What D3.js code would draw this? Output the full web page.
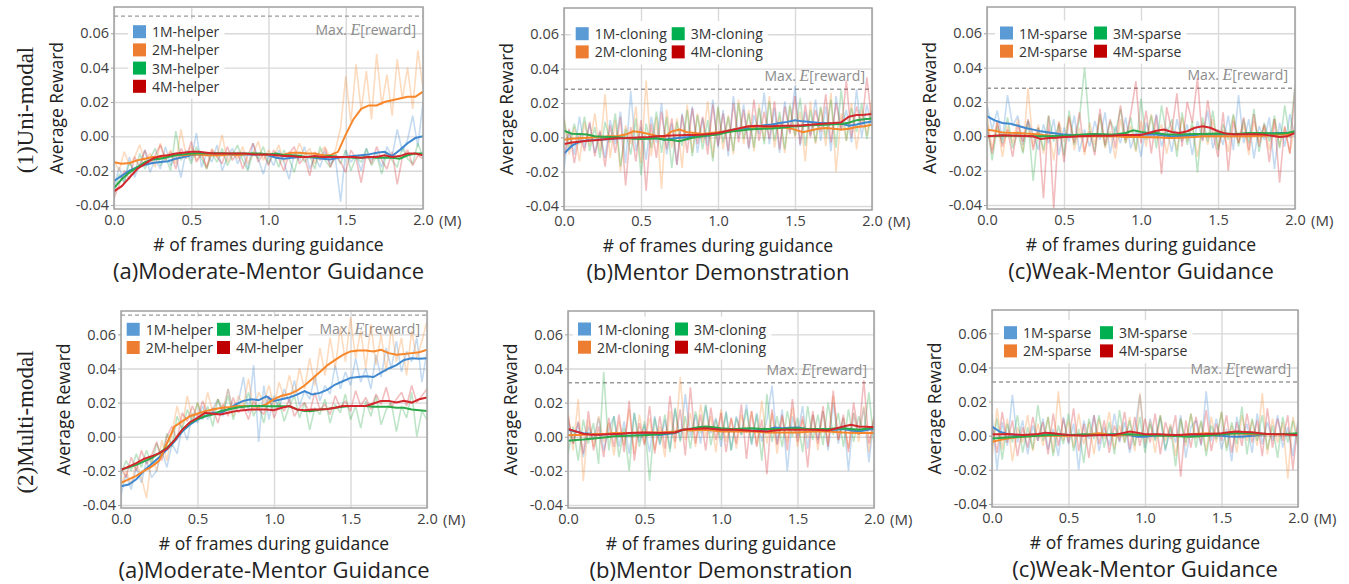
<!DOCTYPE html>
<html>
<head>
<meta charset="utf-8">
<script src="https://cdn.jsdelivr.net/npm/d3@7"></script>
<style>
    body { margin: 0; background: #fff; }
    svg { display: block; font-family: 'Open Sans', sans-serif; }
</style>
</head>
<body>
<div id="mainContainer"></div>
<script>
'use strict';

// x positions (million frames) of the smoothed curves
var frames = [0, 0.05, 0.1, 0.15, 0.2, 0.25, 0.3, 0.35, 0.4, 0.45,
    0.5, 0.55, 0.6, 0.65, 0.7, 0.75, 0.8, 0.85, 0.9, 0.95,
    1.0, 1.05, 1.1, 1.15, 1.2, 1.25, 1.3, 1.35, 1.4, 1.45,
    1.5, 1.55, 1.6, 1.65, 1.7, 1.75, 1.8, 1.85, 1.9, 1.95, 2.0];

var xTicks = [0, 0.5, 1.0, 1.5, 2.0];
var yTicks = [-0.04, -0.02, 0, 0.02, 0.04, 0.06];

var helperNames = ['1M-helper', '2M-helper', '3M-helper', '4M-helper'];
var cloningNames = ['1M-cloning', '2M-cloning', '3M-cloning', '4M-cloning'];
var sparseNames = ['1M-sparse', '2M-sparse', '3M-sparse', '4M-sparse'];

var rowLabels = ['(1)Uni-modal', '(2)Multi-modal'];
var titles = ['(a)Moderate-Mentor Guidance', '(b)Mentor Demonstration', '(c)Weak-Mentor Guidance'];

// Max. E[reward] per panel: uni helper, uni cloning, uni sparse, multi helper, multi cloning, multi sparse
var maxReward = [0.070, 0.028, 0.028, 0.0713, 0.0316, 0.0315];

//---------- (1) uni-modal, smoothed ----------
var uniHelper1M = [-0.026, -0.023, -0.020, -0.018, -0.0165, -0.0155, -0.015, -0.0145, -0.013, -0.012,
    -0.011, -0.0105, -0.0105, -0.010, -0.010, -0.0105, -0.0105, -0.0105, -0.0105, -0.0105,
    -0.011, -0.0125, -0.013, -0.0125, -0.012, -0.012, -0.0125, -0.013, -0.0135, -0.0125,
    -0.012, -0.0115, -0.011, -0.0105, -0.0095, -0.009, -0.0115, -0.008, -0.004, -0.001, 0.000];
var uniHelper2M = [-0.015, -0.016, -0.0155, -0.014, -0.013, -0.012, -0.012, -0.011, -0.011, -0.011,
    -0.0105, -0.0105, -0.011, -0.011, -0.011, -0.0105, -0.011, -0.0105, -0.010, -0.0105,
    -0.0105, -0.011, -0.0105, -0.0095, -0.0095, -0.010, -0.010, -0.011, -0.011, -0.009,
    0.001, 0.010, 0.016, 0.018, 0.018, 0.020, 0.021, 0.022, 0.023, 0.023, 0.026];
var uniHelper3M = [-0.030, -0.025, -0.021, -0.018, -0.015, -0.0135, -0.013, -0.012, -0.011, -0.0105,
    -0.010, -0.0098, -0.0098, -0.0098, -0.0098, -0.010, -0.010, -0.010, -0.010, -0.010,
    -0.0105, -0.010, -0.011, -0.011, -0.0115, -0.012, -0.012, -0.012, -0.0115, -0.012,
    -0.012, -0.0125, -0.0125, -0.012, -0.0125, -0.0125, -0.0125, -0.013, -0.011, -0.010, -0.010];
var uniHelper4M = [-0.032, -0.029, -0.024, -0.019, -0.016, -0.013, -0.0115, -0.011, -0.010, -0.0095,
    -0.009, -0.009, -0.0095, -0.010, -0.010, -0.010, -0.010, -0.010, -0.0105, -0.0105,
    -0.0105, -0.011, -0.0115, -0.0115, -0.012, -0.012, -0.0115, -0.012, -0.012, -0.012,
    -0.012, -0.012, -0.0125, -0.012, -0.012, -0.011, -0.012, -0.0115, -0.010, -0.010, -0.011];

var uniCloning1M = [-0.0095, -0.005, -0.0025, -0.0018, -0.0015, -0.0012, -0.001, -0.0006, -0.0005, -0.0004,
    -0.0004, -0.0005, -0.0004, -0.0014, -0.0008, -0.0002, 0.0, 0.0004, 0.0006, 0.0012,
    0.0025, 0.0035, 0.0045, 0.005, 0.0055, 0.006, 0.007, 0.0075, 0.0083, 0.009,
    0.010, 0.0093, 0.009, 0.0085, 0.0083, 0.0082, 0.008, 0.0068, 0.0075, 0.0085, 0.0093];
var uniCloning2M = [-0.0014, -0.0008, -0.0005, -0.0002, 0.0, 0.0004, 0.0006, 0.0008, 0.0016, 0.0035,
    0.003, 0.002, 0.0008, 0.0002, 0.0035, 0.0045, 0.003, 0.0025, 0.002, 0.0025,
    0.003, 0.0035, 0.0045, 0.0055, 0.0064, 0.005, 0.0055, 0.006, 0.006, 0.0055,
    0.0045, 0.003, 0.004, 0.005, 0.0055, 0.005, 0.0045, 0.005, 0.006, 0.0065, 0.0074];
var uniCloning3M = [0.0039, 0.0021, 0.002, 0.0016, 0.0006, 0.0004, 0.0002, 0.0, -0.0003, -0.0008,
    -0.001, -0.0008, -0.0006, -0.0012, -0.0015, -0.0023, -0.001, 0.0, 0.0008, 0.0012,
    0.0016, 0.0028, 0.0035, 0.004, 0.0045, 0.0048, 0.005, 0.0052, 0.0055, 0.006,
    0.0064, 0.0066, 0.007, 0.0072, 0.0074, 0.0076, 0.0078, 0.0085, 0.010, 0.0105, 0.011];
var uniCloning4M = [-0.0039, -0.003, -0.0025, -0.002, -0.0017, -0.0012, -0.0008, -0.0005, -0.0004, -0.0002,
    0.0, 0.0002, 0.0006, 0.0008, 0.001, 0.0012, 0.0013, 0.0014, 0.0016, 0.002,
    0.0025, 0.0035, 0.0045, 0.0055, 0.0064, 0.0068, 0.0064, 0.0065, 0.0068, 0.0068,
    0.0068, 0.007, 0.0074, 0.0078, 0.008, 0.0083, 0.0087, 0.012, 0.013, 0.0132, 0.0136];

var uniSparse1M = [0.0117, 0.0093, 0.0078, 0.0074, 0.0062, 0.0049, 0.0039, 0.0029, 0.0023, 0.0016,
    0.001, 0.0008, 0.0007, 0.0006, 0.0006, 0.0005, 0.0006, 0.0005, 0.0006, 0.0008,
    0.001, 0.001, 0.001, 0.0005, 0.0, 0.0002, 0.0004, 0.0008, 0.001, 0.001,
    0.001, 0.0012, 0.001, 0.0012, 0.0016, 0.0015, 0.0016, 0.0018, 0.002, 0.002, 0.002];
var uniSparse2M = [0.0039, 0.0032, 0.0023, 0.0021, 0.002, 0.0016, 0.0014, 0.001, 0.0004, 0.0002,
    0, 0, 0, 0, 0, 0, 0, 0, -0.0004, -0.0004,
    -0.0004, -0.0006, -0.0006, -0.0008, -0.001, -0.0008, -0.0006, -0.0004, 0, 0,
    0, 0, 0, 0, 0, 0.0002, 0.0004, 0.0006, 0.001, 0.0012, 0.0016];
var uniSparse3M = [0, 0.0002, 0.0004, 0.0004, 0.0004, 0.0002, 0, 0, 0, 0.0002,
    0.0004, 0.0006, 0.001, 0.0012, 0.0014, 0.0012, 0.001, 0.0014, 0.002, 0.0035,
    0.0026, 0.002, 0.002, 0.0012, 0.001, 0.0011, 0.0012, 0.0013, 0.0014, 0.0015,
    0.0016, 0.0015, 0.0013, 0.0016, 0.002, 0.002, 0.002, 0.0016, 0.0016, 0.002, 0.003];
var uniSparse4M = [0, 0.0003, 0.0006, 0.0005, 0.0004, 0.0002, 0, -0.0016, -0.001, -0.0008,
    -0.0004, -0.0002, 0, 0.0002, 0.0004, 0.0004, 0.0004, 0.0006, 0.0008, 0.0008,
    0.0008, 0.0019, 0.0033, 0.004, 0.0025, 0.002, 0.003, 0.005, 0.0058, 0.005,
    0.003, 0.0016, 0.0012, 0.0012, 0.0012, 0.0012, 0.001, 0.0004, -0.0004, 0, 0.002];

//---------- (2) multi-modal, smoothed ----------
var multiHelper1M = [-0.029, -0.028, -0.025, -0.020, -0.016, -0.012, -0.0076, -0.0027, 0.003, 0.007,
    0.010, 0.012, 0.014, 0.014, 0.016, 0.019, 0.021, 0.022, 0.0214, 0.0237,
    0.021, 0.022, 0.023, 0.0247, 0.0267, 0.0247, 0.0257, 0.0276, 0.0306, 0.0325,
    0.0345, 0.035, 0.0355, 0.035, 0.0375, 0.040, 0.042, 0.045, 0.046, 0.0457, 0.046];
var multiHelper2M = [-0.027, -0.025, -0.023, -0.020, -0.0175, -0.014, -0.004, 0.006, 0.009, 0.012,
    0.0135, 0.015, 0.016, 0.0168, 0.0172, 0.0178, 0.018, 0.018, 0.0175, 0.019,
    0.022, 0.024, 0.025, 0.027, 0.030, 0.034, 0.038, 0.042, 0.045, 0.048,
    0.050, 0.0505, 0.0505, 0.050, 0.051, 0.049, 0.048, 0.0485, 0.049, 0.0495, 0.051];
var multiHelper3M = [-0.0194, -0.018, -0.0165, -0.0145, -0.0125, -0.0096, -0.0065, -0.002, 0.004, 0.008,
    0.0105, 0.012, 0.013, 0.015, 0.016, 0.017, 0.0175, 0.018, 0.018, 0.0178,
    0.0178, 0.0178, 0.0178, 0.016, 0.015, 0.015, 0.016, 0.0163, 0.017, 0.0175,
    0.018, 0.018, 0.018, 0.0175, 0.0175, 0.0175, 0.017, 0.017, 0.016, 0.0155, 0.015];
var multiHelper4M = [-0.0194, -0.0175, -0.0155, -0.013, -0.0115, -0.0096, -0.007, -0.002, 0.004, 0.0085,
    0.011, 0.014, 0.0135, 0.013, 0.014, 0.015, 0.0155, 0.016, 0.016, 0.016,
    0.0155, 0.017, 0.018, 0.016, 0.0155, 0.016, 0.016, 0.0163, 0.017, 0.018,
    0.018, 0.018, 0.018, 0.0195, 0.021, 0.021, 0.020, 0.021, 0.020, 0.022, 0.023];

var multiCloning1M = [0.0041, 0.0031, 0.0021, 0.0017, 0.0012, 0.0014, 0.0016, 0.0019, 0.0021, 0.0019,
    0.0017, 0.0014, 0.001, 0.0016, 0.0021, 0.0041, 0.0041, 0.0049, 0.0056, 0.0049,
    0.0041, 0.0041, 0.0041, 0.0039, 0.0037, 0.0039, 0.0041, 0.0054, 0.005, 0.0052,
    0.0054, 0.0047, 0.0041, 0.0039, 0.0037, 0.0041, 0.0045, 0.0037, 0.0031, 0.0039, 0.0045];
var multiCloning2M = [0.0008, 0.001, 0.0012, 0.0014, 0.0016, 0.0018, 0.0021, 0.0021, 0.0021, 0.0023,
    0.0025, 0.0025, 0.0025, 0.0028, 0.0031, 0.0041, 0.0037, 0.0039, 0.0041, 0.0036,
    0.0031, 0.0031, 0.0031, 0.0031, 0.0031, 0.0028, 0.0025, 0.0025, 0.0025, 0.0025,
    0.0025, 0.0028, 0.0031, 0.0031, 0.0031, 0.0028, 0.0025, 0.0023, 0.0021, 0.0021, 0.0021];
var multiCloning3M = [-0.0023, -0.002, -0.0017, -0.0012, -0.0008, -0.0003, 0.0002, 0.0004, 0.0006, 0.0007,
    0.0008, 0.0012, 0.0016, 0.002, 0.0025, 0.0041, 0.0047, 0.0056, 0.006, 0.0055,
    0.005, 0.0047, 0.0045, 0.0048, 0.005, 0.0047, 0.0045, 0.0045, 0.0045, 0.0048,
    0.005, 0.0047, 0.0045, 0.0045, 0.0045, 0.0048, 0.005, 0.0045, 0.0041, 0.0047, 0.0054];
var multiCloning4M = [0.0045, 0.0031, 0.0017, 0.0012, 0.0012, 0.0014, 0.0016, 0.0018, 0.0021, 0.0023,
    0.0025, 0.0023, 0.0021, 0.0023, 0.0025, 0.0041, 0.0045, 0.0047, 0.005, 0.0045,
    0.0041, 0.0041, 0.0041, 0.0038, 0.0035, 0.0033, 0.0031, 0.0036, 0.0041, 0.0041,
    0.0041, 0.0041, 0.0041, 0.0039, 0.0037, 0.0048, 0.006, 0.007, 0.006, 0.0058, 0.0056];

var multiSparse1M = [0.0053, 0.0024, 0.001, 0.0004, 0, 0.0002, 0.0004, 0.0006, 0.0008, 0.0006,
    0.0004, 0.0004, 0.0004, 0.0004, 0.0004, 0.0006, 0.0008, 0.0006, 0.0004, -0.0006,
    -0.0006, 0, 0.0004, 0.0004, 0.0004, 0.0002, 0, 0.0002, 0.0004, 0.0002,
    0, -0.0004, -0.0006, -0.0004, 0, 0.0006, 0.001, 0.001, 0.001, 0.0009, 0.0008];
var multiSparse2M = [-0.0036, -0.0026, -0.0016, -0.001, -0.0006, -0.0003, 0, 0, 0, 0,
    0, 0.0002, 0.0004, 0.001, 0.0014, 0.0008, 0, 0.0004, 0.0008, 0.0006,
    0.0004, 0.0004, 0.0004, 0.0002, 0, 0.0004, 0.0008, 0.0011, 0.0014, 0.0011,
    0.0008, 0.0011, 0.0014, 0.0011, 0.0008, 0.0008, 0.0008, 0.0009, 0.001, 0.0007, 0.0004];
var multiSparse3M = [-0.0016, -0.0013, -0.001, -0.0008, -0.0006, -0.0003, 0, 0.0002, 0.0004, 0.0004,
    0.0004, 0.0006, 0.0008, 0.0006, 0.0004, 0.0006, 0.0008, 0.0008, 0.0008, 0.0006,
    0.0004, 0.0002, 0, -0.0001, -0.0002, -0.0004, -0.0006, -0.0003, 0, 0.0004,
    0.0008, 0.0011, 0.0014, 0.0014, 0.0014, 0.0012, 0.001, 0.001, 0.001, 0.0012, 0.0014];
var multiSparse4M = [0.0008, 0.0009, 0.001, 0.0007, 0.0004, 0.0007, 0.001, 0.0018, 0.0014, 0.0009,
    0.0004, 0.0002, 0, 0.0002, 0.0004, 0.0004, 0.0004, 0.0014, 0.0024, 0.0018,
    0.0008, 0.0008, 0.0008, 0.0006, 0.0004, 0.0006, 0.0008, 0.0009, 0.001, 0.0012,
    0.0014, 0.002, 0.0024, 0.0022, 0.002, 0.0015, 0.001, 0.0009, 0.0008, 0.0006, 0.0004];

//---------- raw (unsmoothed) rewards, 61 samples over 0-2M ----------
var uniHelper1MRaw = [-.030, -.018, -.027, -.012, -.024, -.016, -.008, -.021, -.013, -.019,
    -.006, -.017, -.011, -.024, -.008, -.014, .002, -.018, -.010, -.015,
    -.005, -.020, -.012, -.007, -.016, -.009, -.019, -.004, -.013, -.022,
    -.011, -.017, -.008, -.015, -.025, -.010, -.014, -.006, -.019, -.012,
    -.018, -.009, -.016, -.013, -.038, -.008, -.015, -.011, -.020, -.007,
    -.014, -.010, -.018, -.006, -.012, .004, -.009, -.002, .012, -.006, .020];
var uniHelper2MRaw = [-.014, -.020, -.009, -.017, -.012, -.005, -.015, -.010, -.018, -.004,
    -.013, -.008, -.016, .004, -.011, -.006, -.014, -.009, -.019, -.007,
    -.012, .001, -.015, -.009, -.013, -.006, -.016, -.010, -.003, -.014,
    -.008, -.012, -.005, -.015, -.009, -.013, -.004, -.011, -.007, -.016,
    -.009, -.006, -.013, -.008, .005, .035, .008, .042, .015, .038,
    .010, .048, .018, .036, .012, .045, .022, .040, .016, .050, .028];
var uniHelper3MRaw = [-.034, -.022, -.027, -.015, -.022, -.010, -.019, -.013, -.007, -.017,
    -.012, -.020, .003, -.014, -.009, -.016, -.006, -.013, -.019, -.010,
    -.015, -.007, -.017, -.011, -.005, -.014, -.020, -.009, -.013, -.006,
    -.016, -.010, -.018, -.008, -.013, -.021, -.009, -.015, -.011, -.019,
    -.006, -.014, -.018, -.010, -.016, -.008, -.020, -.012, -.015, -.007,
    -.017, -.011, -.022, -.009, -.014, -.018, -.006, -.013, -.016, -.004, -.012];
var uniHelper4MRaw = [-.036, -.028, -.020, -.025, -.012, -.018, -.008, -.016, -.011, -.005,
    -.014, -.009, -.019, -.007, -.013, -.003, -.015, -.010, -.018, -.008,
    -.012, -.016, -.006, -.014, -.009, -.019, -.011, -.004, -.015, -.010,
    -.017, -.008, -.013, -.020, -.010, -.006, -.016, -.012, -.023, -.009,
    -.014, -.007, -.018, -.011, -.015, -.021, -.008, -.013, -.027, -.010,
    -.016, -.006, -.014, -.019, -.009, -.028, -.012, -.008, -.017, -.011, -.013];

var uniCloning1MRaw = [-.018, .004, -.010, .012, -.006, .008, -.009, .003, -.012, .010,
    -.004, .015, -.015, .027, -.008, .006, -.013, .012, -.003, .020,
    -.010, .008, -.016, .014, -.002, .018, -.009, .011, -.005, .022,
    -.006, .016, -.011, .024, .000, .019, -.007, .013, .002, .026,
    -.004, .017, -.009, .021, .003, .030, -.005, .015, .001, .022,
    -.002, .018, -.008, .024, .004, .016, -.003, .028, .000, .019, .006];
var uniCloning2MRaw = [.012, -.010, .006, -.014, .009, -.005, .014, -.008, .025, -.012,
    .010, -.020, .007, -.004, .018, -.015, .033, -.011, .012, -.030,
    .016, -.006, .011, -.018, .019, -.009, .014, -.003, .021, -.012,
    .017, -.007, .013, -.010, .022, -.004, .016, -.008, .019, -.002,
    .024, -.006, .012, -.009, .018, .000, .015, -.014, .021, -.004,
    .017, -.005, .026, -.020, .014, -.002, .020, -.007, .016, .001, .022];
var uniCloning3MRaw = [.010, -.006, .008, -.004, .012, -.008, .006, -.012, .009, -.003,
    .014, -.017, .005, -.010, .011, -.022, .008, -.006, .015, -.009,
    .012, -.018, .009, -.005, .016, -.011, .013, -.007, .010, -.014,
    .018, -.003, .012, -.008, .020, -.001, .014, -.006, .017, -.004,
    .021, -.002, .015, -.007, .019, .001, .023, -.005, .016, -.003,
    .018, .000, .022, -.006, .028, -.002, .017, .003, .020, -.001, .016];
var uniCloning4MRaw = [-.012, .005, -.015, .002, -.008, .009, -.011, .004, -.017, .007,
    -.009, .012, -.028, .006, -.014, .010, -.031, .008, -.012, .015,
    -.007, .011, -.016, .013, -.009, .017, -.004, .012, -.010, .019,
    -.005, .014, -.008, .020, -.003, .016, -.006, .022, -.002, .015,
    -.001, .021, -.007, .018, .002, .024, -.004, .019, .000, .016,
    .003, .025, -.003, .020, .004, .033, .000, .018, .006, .035, .008];

var uniSparse1MRaw = [.018, .004, .015, -.002, .024, .006, .012, -.005, .009, .001,
    -.008, .007, -.004, .010, -.011, .005, -.003, .012, -.009, .004,
    -.006, .009, -.002, .014, -.010, .006, -.004, .011, -.007, .003,
    -.012, .008, -.001, .013, -.006, .005, -.009, .010, -.003, .007,
    -.011, .009, -.002, .015, -.007, .004, -.005, .012, -.008, .024,
    -.004, .010, -.013, .006, -.002, .011, -.019, .008, -.006, .013, -.001];
var uniSparse2MRaw = [.012, -.008, .009, -.012, .006, -.004, .010, -.009, .028, -.006,
    .007, -.010, .004, -.014, .009, -.003, .012, -.008, .005, -.011,
    .008, -.005, .011, -.007, .003, -.013, .010, -.004, .006, -.009,
    .009, -.006, .013, -.002, .007, -.010, .005, -.008, .011, -.003,
    .006, -.012, .008, -.005, .010, -.007, .004, -.009, .012, -.004,
    .007, -.011, .009, -.003, .006, -.008, .010, -.006, .005, -.010, .008];
var uniSparse3MRaw = [.008, -.014, .006, -.004, .011, -.007, .003, -.010, .009, -.026,
    .005, -.008, .012, -.003, .007, -.011, .015, -.005, .010, .040,
    .004, -.009, .013, -.006, .009, .002, .016, -.004, .011, -.008,
    .022, -.002, .012, -.007, .018, .001, .010, -.012, .014, -.005,
    .009, -.021, .011, -.003, .015, -.008, .007, -.002, .013, -.006,
    .010, -.004, .016, -.009, .008, -.003, .012, -.007, .018, -.001, .030];
var uniSparse4MRaw = [.006, -.010, .009, -.006, .004, -.012, .007, -.003, .010, -.008,
    .005, -.036, .012, -.042, .008, -.015, .011, -.004, .014, -.009,
    .003, -.011, .016, -.005, .010, -.007, .018, -.002, .013, .032,
    -.004, .015, -.010, .012, -.022, .017, .003, .025, -.006, .020,
    .008, .034, -.003, .021, .002, -.012, .014, -.020, .009, -.004,
    .011, -.008, .013, -.006, .007, -.015, .010, -.027, .006, -.010, .028];

var multiHelper1MRaw = [-.034, -.022, -.031, -.018, -.027, -.014, -.024, -.020, -.008, -.018,
    -.004, -.010, .006, -.002, .014, .008, .018, .010, .016, .022,
    .012, .028, .015, .020, .035, .014, .042, -.003, .030, .010,
    .024, .016, .028, .020, .033, .018, .027, .022, .036, .021,
    .030, .025, .042, .028, .038, .030, .046, .032, .040, .028,
    .048, .035, .052, .040, .056, .038, .050, .044, .058, .032, .050];
var multiHelper2MRaw = [-.030, -.020, -.028, -.015, -.024, -.036, -.012, -.020, -.002, -.014,
    .002, .018, .006, .024, .010, .020, .012, .026, .014, .022,
    .016, .028, .012, .024, .018, .034, .015, .026, .020, .030,
    .018, .032, .022, .036, .024, .040, .028, .046, .030, .052,
    .036, .058, .040, .064, .044, .070, .046, .062, .040, .066,
    .042, .060, .038, .064, .044, .058, .036, .062, .046, .056, .068];
var multiHelper3MRaw = [-.022, -.014, -.020, -.010, -.018, -.008, -.016, -.004, -.012, .002,
    -.006, .012, .004, .016, .008, .020, .010, .018, .006, .022,
    .014, .024, .010, .020, .016, .026, .012, .019, .008, .023,
    .015, .021, .009, .018, .024, .011, .020, .004, .017, .013,
    .022, .008, .019, .014, .025, .010, .018, .005, .021, .012,
    .024, .007, .016, .020, .003, .018, .011, .026, .000, .015, .010];
var multiHelper4MRaw = [-.018, -.024, -.012, -.020, -.008, -.016, -.011, -.003, -.014, .000,
    .006, -.002, .014, .009, .018, .011, .021, .013, .017, .008,
    .019, .012, .023, .014, .018, .010, .021, .016, .013, .024,
    .011, .019, .015, .022, .012, .017, .020, .014, .026, .016,
    .019, .013, .024, .017, .021, .015, .027, .018, .023, .016,
    .025, .019, .029, .017, .022, .026, .018, .030, .020, .024, .028];

var multiCloning1MRaw = [.010, -.004, .008, -.012, .006, -.002, .011, -.008, .004, .012,
    -.006, .009, -.010, .014, -.003, .007, -.009, .012, -.005, .010,
    -.007, .016, -.002, .025, .000, .013, -.004, .018, .002, .011,
    -.006, .015, -.008, .012, .001, .019, -.005, .014, -.003, .010,
    .030, -.004, .016, -.020, .012, .000, .018, -.007, .013, -.002,
    .015, -.008, .020, -.004, .011, -.020, .014, .001, .017, -.015, .012];
var multiCloning2MRaw = [.014, -.008, .022, -.026, .010, -.006, .012, -.003, .008, -.011,
    .009, -.005, .016, -.010, .013, -.004, .011, -.008, .006, -.012,
    .015, -.007, .035, -.002, .014, -.006, .019, .000, .012, -.009,
    .016, -.003, .011, -.007, .013, .002, .015, -.005, .021, -.004,
    .014, -.010, .012, -.003, .017, -.006, .010, -.001, .013, -.008,
    .015, -.005, .024, -.002, .011, -.007, .014, -.003, .018, -.009, .012];
var multiCloning3MRaw = [-.010, .006, -.014, .010, -.004, .008, -.016, .038, -.008, .012,
    -.012, .005, -.020, .014, -.006, .009, -.026, .011, -.004, .013,
    -.009, .017, -.003, .012, -.007, .015, .002, .019, -.005, .010,
    -.002, .014, -.008, .011, .001, .016, -.004, .013, -.014, .025,
    -.003, .012, -.006, .015, .000, .011, -.009, .018, -.002, .013,
    -.005, .020, .001, .014, -.006, .016, -.003, .012, .002, .026, -.004];
var multiCloning4MRaw = [.012, -.004, .009, -.010, .015, -.008, .006, -.012, .011, -.006,
    .013, -.009, .021, -.014, .008, -.005, .018, -.010, .012, -.007,
    .024, -.003, .016, -.011, .029, -.004, .013, -.008, .017, -.002,
    .014, -.009, .011, -.004, .019, -.013, .015, -.006, .010, -.022,
    .016, -.005, .013, -.008, .022, -.003, .012, -.018, .015, -.004,
    .018, -.006, .027, -.002, .013, -.009, .020, .001, .033, -.004, .011];

var multiSparse1MRaw = [.012, -.020, .008, -.006, .024, -.004, .009, -.011, .006, -.003,
    .010, -.008, .004, -.012, .011, -.005, .007, -.020, .009, -.002,
    .012, -.009, .005, -.006, .013, -.004, .008, -.010, .003, .024,
    -.007, .010, -.002, .011, -.009, .006, -.004, .012, -.013, .005,
    .009, -.006, .026, -.003, .010, -.008, .004, -.015, .011, -.002,
    .007, -.010, .013, -.005, .008, -.003, .012, -.007, .005, -.012, .009];
var multiSparse2MRaw = [-.012, .016, -.008, .010, -.015, .005, -.004, .012, -.009, .007,
    -.006, .011, -.010, .026, -.003, .009, -.007, .013, -.005, .008,
    -.011, .010, -.002, .014, -.008, .006, -.004, .011, -.009, .025,
    -.005, .009, -.010, .012, -.003, .007, -.012, .010, -.006, .013,
    -.002, .008, -.009, .011, -.004, .014, -.007, .006, -.010, .012,
    -.003, .009, -.006, .025, -.011, .010, -.004, .008, -.025, .011, -.002];
var multiSparse3MRaw = [-.006, .010, -.014, .007, -.004, .012, -.010, .005, -.008, .018,
    -.003, .011, -.012, .006, -.005, .013, -.009, .004, -.016, .010,
    -.002, .012, -.007, .008, -.011, .015, -.004, .009, -.006, .011,
    -.010, .007, -.003, .012, -.008, .005, -.018, .010, -.004, .013,
    -.007, .009, -.012, .006, -.002, .014, -.009, .008, -.005, .017,
    -.011, .010, -.003, .012, -.008, .006, -.013, .011, -.004, .009, -.006];
var multiSparse4MRaw = [.006, -.010, .014, -.004, .009, -.012, .005, -.007, .011, -.003,
    .008, -.011, .013, -.006, .010, -.004, .016, -.009, .007, -.013,
    .012, -.005, .009, -.010, .006, -.003, .014, -.008, .011, -.006,
    .010, -.004, .013, -.011, .008, -.002, .012, -.024, .009, -.007,
    .011, -.005, .015, -.009, .007, -.003, .012, -.010, .008, -.006,
    .013, -.004, .009, -.012, .016, -.007, .010, -.003, .012, -.020, .008];

var lineColors = ['#3f88cf', '#f7872a', '#2ba84a', '#d3262c'];
var swatchColors = ['#5b9bd5', '#ed7d31', '#00b050', '#c00000'];

// panel layout (pixels) and which series go where
var panels = [
    { left: 114, top: 7, width: 309, height: 202, domain: [-0.0423, 0.0753], row: 0, col: 0,
      names: helperNames, lines: [uniHelper1M, uniHelper2M, uniHelper3M, uniHelper4M],
      raws: [uniHelper1MRaw, uniHelper2MRaw, uniHelper3MRaw, uniHelper4MRaw],
      max: maxReward[0], maxBelow: true, legend: { x: 19, y: 24.7, cols: 1, gap: 0 } },
    { left: 564, top: 8, width: 308, height: 202, domain: [-0.0423, 0.0753], row: 0, col: 1,
      names: cloningNames, lines: [uniCloning1M, uniCloning2M, uniCloning3M, uniCloning4M],
      raws: [uniCloning1MRaw, uniCloning2MRaw, uniCloning3MRaw, uniCloning4MRaw],
      max: maxReward[1], maxBelow: false, legend: { x: 11.7, y: 25.7, cols: 2, gap: 96 } },
    { left: 987, top: 7, width: 308, height: 202, domain: [-0.0423, 0.0753], row: 0, col: 2,
      names: sparseNames, lines: [uniSparse1M, uniSparse2M, uniSparse3M, uniSparse4M],
      raws: [uniSparse1MRaw, uniSparse2MRaw, uniSparse3MRaw, uniSparse4MRaw],
      max: maxReward[2], maxBelow: false, legend: { x: 13, y: 26, cols: 2, gap: 94 } },
    { left: 121, top: 311, width: 306, height: 197, domain: [-0.0418, 0.0737], row: 1, col: 0,
      names: helperNames, lines: [multiHelper1M, multiHelper2M, multiHelper3M, multiHelper4M],
      raws: [multiHelper1MRaw, multiHelper2MRaw, multiHelper3MRaw, multiHelper4MRaw],
      max: maxReward[3], maxBelow: true, legend: { x: 5.7, y: 18.3, cols: 2, gap: 90.3 } },
    { left: 568, top: 311, width: 306, height: 197, domain: [-0.0418, 0.0737], row: 1, col: 1,
      names: cloningNames, lines: [multiCloning1M, multiCloning2M, multiCloning3M, multiCloning4M],
      raws: [multiCloning1MRaw, multiCloning2MRaw, multiCloning3MRaw, multiCloning4MRaw],
      max: maxReward[4], maxBelow: false, legend: { x: 10, y: 18, cols: 2, gap: 97 } },
    { left: 992, top: 310, width: 306, height: 197, domain: [-0.0418, 0.0737], row: 1, col: 2,
      names: sparseNames, lines: [multiSparse1M, multiSparse2M, multiSparse3M, multiSparse4M],
      raws: [multiSparse1MRaw, multiSparse2MRaw, multiSparse3MRaw, multiSparse4MRaw],
      max: maxReward[5], maxBelow: false, legend: { x: 12, y: 22.7, cols: 2, gap: 96 } }
];

var svg = d3.select('#mainContainer')
    .append('svg')
    .attr('width', 1349)
    .attr('height', 584);

// row labels
[[25, 110], [25, 422]].forEach(function (pos, r) {
    svg.append('text')
        .attr('transform', 'translate(' + pos[0] + ',' + pos[1] + ') rotate(-90)')
        .attr('text-anchor', 'middle')
        .attr('dominant-baseline', 'central')
        .style('font-family', '"Liberation Serif", serif')
        .style('font-size', '23px')
        .attr('fill', '#222')
        .text(rowLabels[r]);
});

panels.forEach(drawPanel);

function drawPanel(p, k) {
    var right = p.left + p.width,
        bottom = p.top + p.height;

    var x = d3.scaleLinear().domain([0, 2]).range([p.left, right]);
    var y = d3.scaleLinear().domain(p.domain).range([bottom, p.top]);
    var rawStep = d3.scaleLinear().domain([0, p.raws[0].length - 1]).range([0, 2]);

    var g = svg.append('g');

    //grid
    var gx = g.append('g')
        .attr('transform', 'translate(0,' + bottom + ')')
        .call(d3.axisBottom(x).tickValues(xTicks).tickSize(-p.height).tickFormat(''));
    var gy = g.append('g')
        .attr('transform', 'translate(' + p.left + ',0)')
        .call(d3.axisLeft(y).tickValues(yTicks).tickSize(-p.width).tickFormat(''));
    [gx, gy].forEach(function (a) {
        a.select('.domain').remove();
        a.selectAll('line').attr('stroke', '#d9d9d9').attr('stroke-width', 1.4);
    });

    //max expected reward
    g.append('line')
        .attr('x1', p.left).attr('x2', right)
        .attr('y1', y(p.max)).attr('y2', y(p.max))
        .attr('stroke', '#9a9a9a')
        .attr('stroke-width', 1.4)
        .attr('stroke-dasharray', '4,3');

    var maxText = g.append('text')
        .attr('x', right - 7)
        .attr('y', p.maxBelow ? y(p.max) + 19 : y(p.max) - 8)
        .attr('text-anchor', 'end')
        .attr('fill', '#8c8c8c')
        .style('font-size', '14px');
    maxText.append('tspan').text('Max. ');
    maxText.append('tspan')
        .style('font-family', '"Liberation Serif", serif')
        .style('font-style', 'italic')
        .style('font-size', '16px')
        .text('E');
    maxText.append('tspan').text('[reward]');

    //curves, clipped to the frame
    var clipId = 'clip-' + k;
    svg.append('clipPath').attr('id', clipId)
        .append('rect')
        .attr('x', p.left).attr('y', p.top)
        .attr('width', p.width).attr('height', p.height);

    var curves = g.append('g').attr('clip-path', 'url(#' + clipId + ')');

    var rawLine = d3.line()
        .x(function (d, i) { return x(rawStep(i)); })
        .y(function (d) { return y(d); });

    var smoothLine = d3.line()
        .x(function (d, i) { return x(frames[i]); })
        .y(function (d) { return y(d); });

    curves.selectAll('path.raw')
        .data(p.raws)
        .enter().append('path')
        .attr('class', 'raw')
        .attr('d', rawLine)
        .attr('fill', 'none')
        .attr('stroke', function (d, i) { return lineColors[i]; })
        .attr('stroke-opacity', 0.3)
        .attr('stroke-width', 1.6)
        .attr('stroke-linejoin', 'bevel');

    curves.selectAll('path.smooth')
        .data(p.lines)
        .enter().append('path')
        .attr('class', 'smooth')
        .attr('d', smoothLine)
        .attr('fill', 'none')
        .attr('stroke', function (d, i) { return lineColors[i]; })
        .attr('stroke-width', 2);

    //legend
    var leg = g.append('g');
    p.names.forEach(function (name, i) {
        var c = p.legend.cols === 1 ? 0 : Math.floor(i / 2),
            r = p.legend.cols === 1 ? i : i % 2,
            lx = p.left + p.legend.x + c * p.legend.gap,
            ly = p.top + p.legend.y + r * 18.2;
        leg.append('rect')
            .attr('x', lx).attr('y', ly - 6.5)
            .attr('width', 13).attr('height', 13)
            .attr('fill', swatchColors[i]);
        leg.append('text')
            .attr('x', lx + 19).attr('y', ly)
            .attr('dominant-baseline', 'central')
            .attr('fill', '#333')
            .style('font-size', '14px')
            .text(name);
    });
    var bb = leg.node().getBBox();
    leg.insert('rect', ':first-child')
        .attr('x', bb.x - 5).attr('y', bb.y - 3)
        .attr('width', bb.width + 10).attr('height', bb.height + 6)
        .attr('fill', '#fff')
        .attr('fill-opacity', 0.9);

    //frame
    g.append('rect')
        .attr('x', p.left).attr('y', p.top)
        .attr('width', p.width).attr('height', p.height)
        .attr('fill', 'none')
        .attr('stroke', '#a0a0a0')
        .attr('stroke-width', 1.5);

    //axes
    var ay = g.append('g')
        .attr('transform', 'translate(' + p.left + ',0)')
        .call(d3.axisLeft(y).tickValues(yTicks).tickSize(3).tickPadding(2)
            .tickFormat(function (d) { return d.toFixed(2); }));
    var ax = g.append('g')
        .attr('transform', 'translate(0,' + bottom + ')')
        .call(d3.axisBottom(x).tickValues(xTicks).tickSize(0).tickPadding(6)
            .tickFormat(function (d) { return d.toFixed(1); }));
    [ax, ay].forEach(function (a) {
        a.select('.domain').remove();
        a.selectAll('line').attr('stroke', '#a0a0a0');
        a.selectAll('text')
            .attr('fill', '#404040')
            .style('font-family', '"Open Sans", sans-serif')
            .style('font-size', '14.5px');
    });

    g.append('text')
        .attr('x', right + 16).attr('y', bottom + 17)
        .attr('fill', '#404040')
        .style('font-size', '15px')
        .text('(M)');

    g.append('text')
        .attr('transform', 'translate(' + (p.left - 58) + ',' + (p.top + p.height / 2) + ') rotate(-90)')
        .attr('text-anchor', 'middle')
        .attr('dominant-baseline', 'central')
        .attr('fill', '#222')
        .style('font-size', '17.5px')
        .text('Average Reward');

    g.append('text')
        .attr('x', (p.left + right) / 2).attr('y', bottom + 42)
        .attr('text-anchor', 'middle')
        .attr('fill', '#222')
        .style('font-size', '17.5px')
        .text('# of frames during guidance');

    g.append('text')
        .attr('x', (p.left + right) / 2).attr('y', bottom + 70)
        .attr('text-anchor', 'middle')
        .attr('fill', '#222')
        .style('font-size', '22px')
        .text(titles[p.col]);
}
</script>
</body>
</html>
